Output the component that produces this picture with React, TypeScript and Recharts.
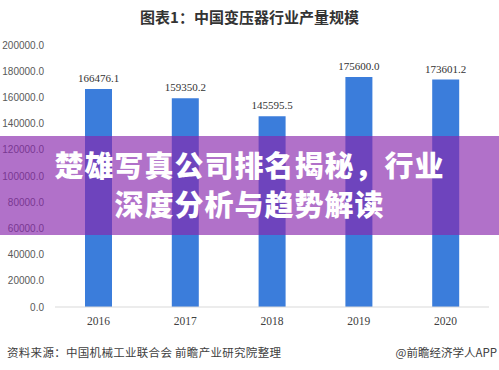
import { Bar, BarChart, LabelList, XAxis, YAxis } from 'recharts';

const years = ['2016', '2017', '2018', '2019', '2020'];
const output = [166476.1, 159350.2, 145595.5, 175600.0, 173601.2];
const yTicks = [0, 20000, 40000, 60000, 80000, 100000, 120000, 140000, 160000, 180000, 200000];

const chartData = years.map((year, i) => ({ year, value: output[i] }));

const fmt = (v: unknown) => Number(v).toFixed(1);

export default function App() {
  return (
    <div
      style={{
        position: 'absolute',
        left: 0,
        top: 0,
        width: 499,
        height: 370,
        background: '#ffffff',
        overflow: 'hidden',
        fontFamily: "'Noto Sans CJK SC', 'Noto Sans', sans-serif",
      }}
    >
      <div
        style={{
          position: 'absolute',
          top: 6,
          width: '100%',
          textAlign: 'center',
          fontSize: 15,
          fontWeight: 700,
          color: '#333333',
          lineHeight: '22px',
        }}
      >
        图表1：中国变压器行业产量规模
      </div>
      <BarChart
        width={499}
        height={370}
        data={chartData}
        margin={{ top: 45, right: 10, left: 0, bottom: 0 }}
      >
        <XAxis
          dataKey='year'
          height={63}
          tickLine={false}
          axisLine={{ stroke: '#d9d9d9' }}
          tick={{ fill: '#404040', fontSize: 11.5, fontFamily: "'Liberation Serif', serif" }}
          tickMargin={4}
        />
        <YAxis
          width={55}
          domain={[0, 200000]}
          ticks={yTicks}
          tickFormatter={fmt}
          axisLine={false}
          tickLine={false}
          tickMargin={5}
          tick={{ fill: '#595959', fontSize: 10, fontFamily: "'Liberation Sans', sans-serif" }}
        />
        <Bar
          dataKey='value'
          fill='#3b7ddb'
          barSize={27}
          isAnimationActive={false}
        >
          <LabelList
            dataKey='value'
            position='top'
            offset={7}
            formatter={fmt}
            style={{ fill: '#333333', fontSize: 11, fontFamily: "'Liberation Serif', serif" }}
          />
        </Bar>
      </BarChart>
      <div
        style={{
          position: 'absolute',
          left: 0,
          top: 136,
          width: '100%',
          height: 99,
          background: 'rgba(136, 39, 173, 0.66)',
        }}
      />
      <div
        style={{
          position: 'absolute',
          left: 0,
          top: 145,
          width: '100%',
          textAlign: 'center',
          fontSize: 29,
          fontWeight: 900,
          color: '#ffffff',
          lineHeight: '39px',
          letterSpacing: 1,
        }}
      >
        楚雄写真公司排名揭秘，行业
        <br />
        深度分析与趋势解读
      </div>
      <div
        style={{
          position: 'absolute',
          left: 7,
          top: 344,
          fontSize: 11.5,
          letterSpacing: 0.3,
          color: '#404040',
          lineHeight: '16px',
        }}
      >
        资料来源：中国机械工业联合会 前瞻产业研究院整理
      </div>
      <div
        style={{
          position: 'absolute',
          right: 2,
          top: 344,
          fontSize: 11.5,
          color: '#404040',
          lineHeight: '16px',
        }}
      >
        @前瞻经济学人APP
      </div>
    </div>
  );
}
